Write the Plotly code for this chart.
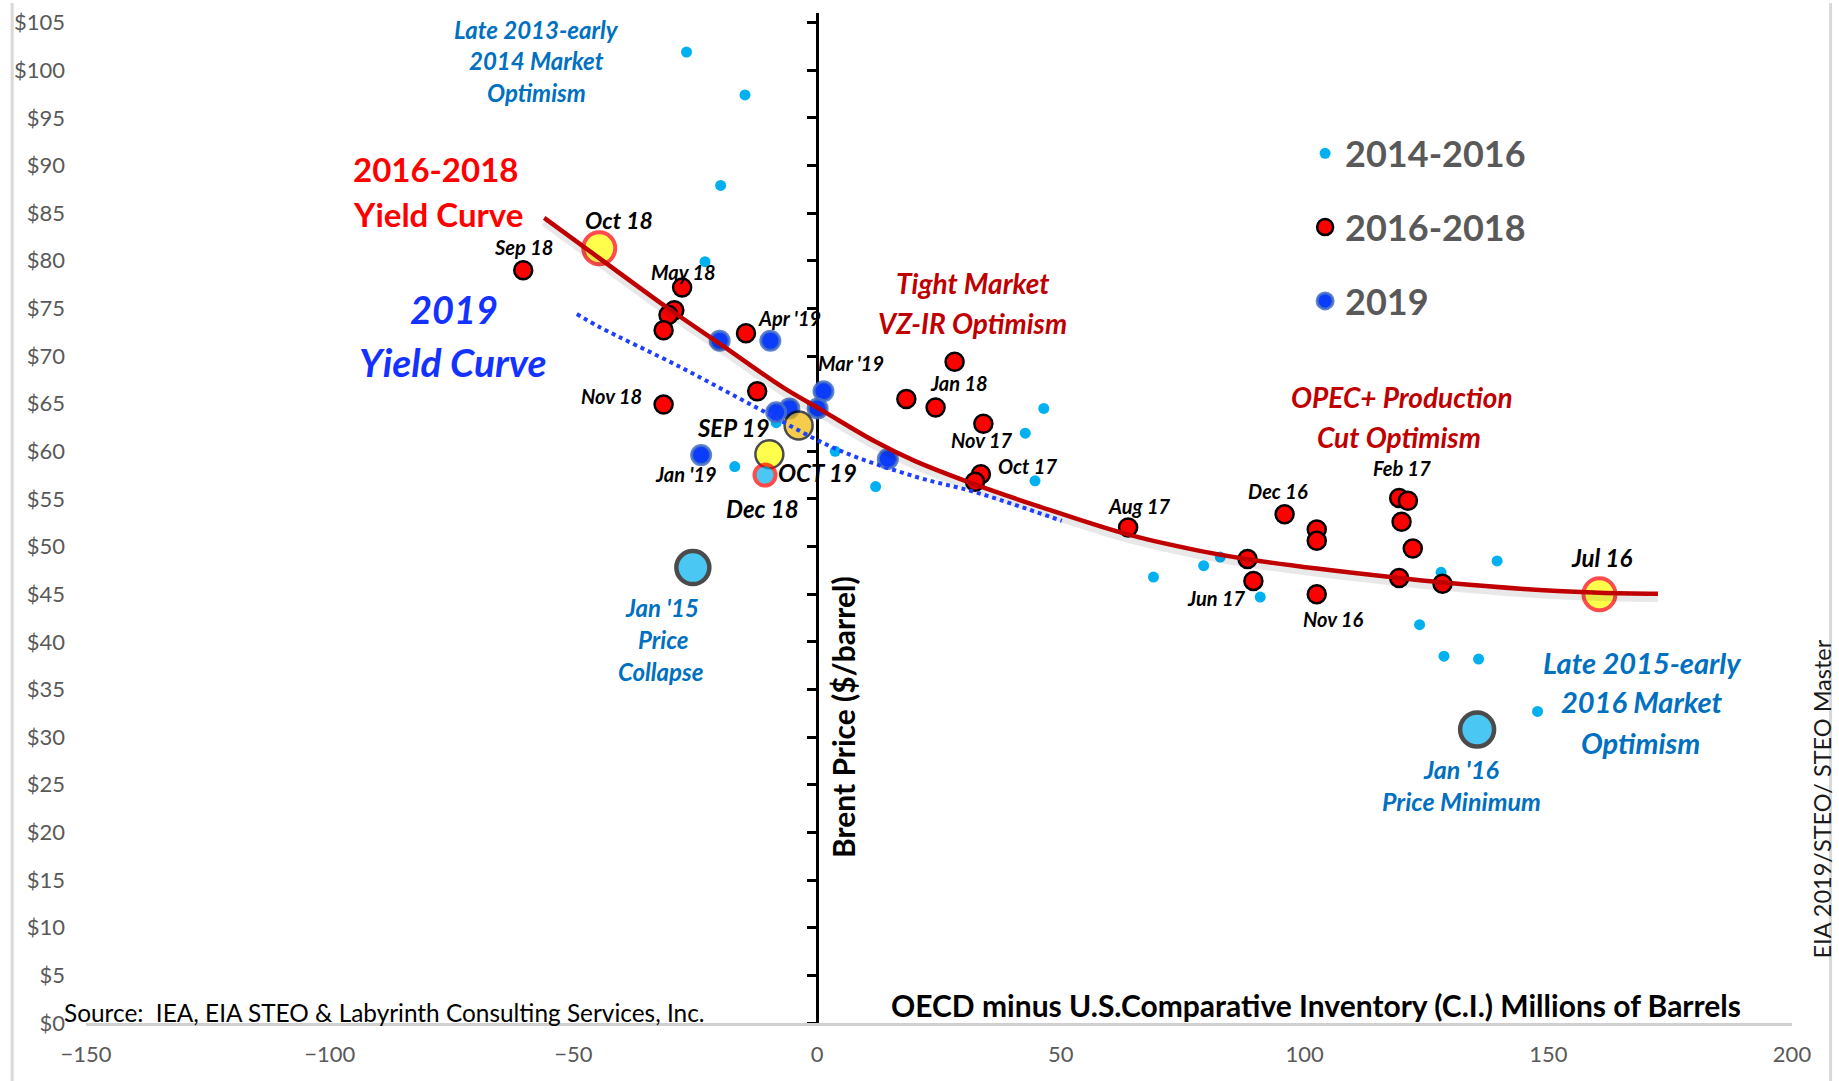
import plotly.graph_objects as go

# ---------------- data ----------------
# OECD minus U.S. comparative inventory (million bbl) vs Brent price ($/bbl)
ci_2014_2016 = [-26.8, -14.8, -19.8, -23.0, -8.4, -16.9, 3.7, 12.0, 46.5, 42.7, 44.7,
                69.0, 79.3, 82.7, 90.9, 128.0, 139.5, 123.6, 128.6, 135.7, 147.8]
brent_2014_2016 = [101.9, 97.4, 87.9, 79.9, 63.0, 58.4, 60.0, 56.3, 64.5, 61.9, 56.9,
                   46.8, 48.0, 48.9, 44.7, 47.3, 48.5, 41.8, 38.5, 38.2, 32.7]

ci_2016_2018 = [-60.3, -27.7, -29.3, -30.5, -31.5, -14.6, -12.3, -31.5, 28.2, 18.3, 24.3,
                34.1, 33.6, 32.4, 63.8, 95.9, 102.5, 102.5, 88.3, 89.5, 102.5,
                119.4, 121.2, 119.9, 122.2, 119.4, 128.3]
brent_2016_2018 = [79.0, 77.2, 74.8, 74.3, 72.7, 72.4, 66.3, 64.9, 69.4, 65.5, 64.6,
                   62.9, 57.6, 56.8, 52.0, 53.4, 51.8, 50.6, 48.7, 46.4, 45.0,
                   55.1, 54.8, 52.6, 49.8, 46.7, 46.1]

ci_2019 = [-20.0, -9.6, 1.3, 0.1, -5.7, -8.4, -23.8, 14.5]
brent_2019 = [71.6, 71.6, 66.3, 64.5, 64.5, 64.1, 59.6, 59.2]

# highlighted months
hl_label = ["Oct 18", "Jul 16", "SEP 19", "OCT 19", "Dec 18", "Jan '15", "Jan '16"]
hl_ci = [-44.7, 160.5, -3.8, -9.8, -10.7, -25.5, 135.4]
hl_brent = [81.3, 45.0, 62.7, 59.7, 57.5, 47.8, 30.8]

# yield curves (trend lines)
curve_2016_2018_ci = [-56.0, -44.5, -30.0, -20.0, -7.0, 1.0, 12.0, 20.0, 32.5, 45.0,
                      63.5, 78.0, 88.0, 102.5, 119.5, 128.0, 145.0, 160.5, 172.5]
curve_2016_2018_brent = [84.5, 80.2, 74.8, 71.3, 66.7, 64.3, 61.0, 59.0, 56.5, 54.3,
                         51.3, 49.6, 48.7, 47.7, 46.7, 46.25, 45.55, 45.15, 45.05]
curve_2019_ci = [-49.3, -44.5, -28.3, -12.1, 4.1, 20.4, 32.5, 50.2]
curve_2019_brent = [74.4, 73.0, 68.9, 64.5, 60.2, 57.3, 55.7, 52.7]

y_ticks = list(range(0, 106, 5))
y_tick_text = ["$" + str(v) for v in y_ticks]
x_ticks = [-150, -100, -50, 0, 50, 100, 150, 200]

# ---------------- styles ----------------
FONT = "Lato, 'Open Sans', sans-serif"
LIGHT_BLUE = "#00B0F0"
RED = "#FF0000"
BLUE = "#0A3CFA"
hl_fill = ["#FFFF00", "#FFFF00", "#F2B600", "#FFFF00", LIGHT_BLUE, LIGHT_BLUE, LIGHT_BLUE]
hl_line_color = [RED, RED, "#000000", "#000000", RED, "#000000", "#000000"]
hl_line_width = [4, 4, 2.5, 2.5, 4, 4.5, 4.5]
hl_size = [32, 32, 28, 28, 21, 33, 34]

fig = go.Figure()

fig.add_trace(go.Scatter(
    x=ci_2014_2016, y=brent_2014_2016, mode="markers", name="2014-2016",
    legendgroup="a",
    marker=dict(color=LIGHT_BLUE, size=11, line=dict(width=0))))
fig.add_trace(go.Scatter(
    x=ci_2016_2018, y=brent_2016_2018, mode="markers", name="2016-2018",
    legendgroup="b",
    marker=dict(color=RED, size=18, line=dict(color="#000000", width=2.5))))
fig.add_trace(go.Scatter(
    x=ci_2019, y=brent_2019, mode="markers", name="2019",
    legendgroup="c",
    marker=dict(color=BLUE, size=19, line=dict(color="rgba(70,112,196,0.85)", width=3))))
fig.add_trace(go.Scatter(
    x=hl_ci, y=hl_brent, mode="markers", showlegend=False, text=hl_label,
    marker=dict(color=hl_fill, size=hl_size,
                line=dict(color=hl_line_color, width=hl_line_width))))

# soft drop shadow of the 2016-2018 curve (same data on a slightly shifted hidden axis)
fig.add_trace(go.Scatter(
    x=curve_2016_2018_ci, y=curve_2016_2018_brent, mode="lines", showlegend=False,
    yaxis="y2", line=dict(color="rgba(0,0,0,0.09)", width=9, shape="spline")))
# trend curves drawn on an overlaying axis so they sit above the markers
fig.add_trace(go.Scatter(
    x=curve_2016_2018_ci, y=curve_2016_2018_brent, mode="lines", showlegend=False,
    yaxis="y3", line=dict(color="#C00000", width=4.5, shape="spline")))
fig.add_trace(go.Scatter(
    x=curve_2019_ci, y=curve_2019_brent, mode="lines", showlegend=False,
    yaxis="y3", line=dict(color="#1F3FFF", width=4, dash="dot", shape="spline")))

annotations = []


def lab(text, x, y, size, color, bold=True, italic=True, xanchor="center", **kw):
    annotations.append(dict(
        text=text, x=x, y=y, xref="x", yref="y", showarrow=False,
        xanchor=xanchor, yanchor="middle", yshift=4,
        font=dict(family=FONT, size=size, color=color,
                  weight="bold" if bold else "normal",
                  style="italic" if italic else "normal"), **kw))


DARK_BLUE = "#0070C0"
for t, x, y, s in [("Late 2013-early", -57.5, 103.9, 24), ("2014 Market", -57.6, 100.6, 24),
                   ("Optimism", -57.6, 97.2, 24),
                   ("Jan '15", -31.8, 43.2, 24), ("Price", -31.7, 39.8, 24),
                   ("Collapse", -32.1, 36.5, 24),
                   ("Late 2015-early", 169.2, 37.4, 29), ("2016 Market", 169.2, 33.3, 29),
                   ("Optimism", 169.0, 29.0, 29),
                   ("Jan '16", 132.1, 26.2, 25), ("Price Minimum", 132.1, 22.9, 25)]:
    lab(t, x, y, s, DARK_BLUE)

lab("2016-2018", -95.6, 89.2, 33, RED, italic=False, xanchor="left")
lab("Yield Curve", -95.6, 84.5, 33, RED, italic=False, xanchor="left")
lab("2019", -74.5, 74.5, 38, "#1432FF")
lab("Yield Curve", -74.7, 69.0, 39, "#1432FF")

for t, x, y in [("Tight Market", 32.0, 77.2), ("VZ-IR Optimism", 31.8, 73.0),
                ("OPEC+ Production", 119.9, 65.3), ("Cut Optimism", 119.4, 61.1)]:
    lab(t, x, y, 28, "#C00000")

for t, x, y, s in [("Oct 18", -40.7, 83.9, 23), ("Sep 18", -60.2, 81.0, 20),
                   ("May 18", -27.4, 78.4, 20), ("Apr '19", -5.7, 73.6, 20),
                   ("Nov 18", -42.1, 65.4, 20), ("Mar '19", 7.0, 68.8, 20),
                   ("Jan 18", 29.0, 66.7, 20), ("Nov 17", 33.9, 60.8, 20),
                   ("Oct 17", 43.1, 58.0, 20), ("Aug 17", 66.2, 53.8, 20),
                   ("SEP 19", -17.1, 62.1, 24), ("OCT 19", 0.1, 57.4, 24),
                   ("Dec 18", -11.3, 53.6, 24), ("Jan '19", -26.9, 57.2, 20),
                   ("Dec 16", 94.6, 55.4, 20), ("Feb 17", 120.0, 57.8, 20),
                   ("Jun 17", 82.0, 44.2, 20), ("Nov 16", 106.0, 42.0, 20),
                   ("Jul 16", 161.0, 48.4, 24)]:
    lab(t, x, y, s, "#000000")

lab("OECD minus U.S.Comparative Inventory (C.I.) Millions of Barrels", 102.3, 1.5, 30,
    "#000000", italic=False)
lab("Brent Price ($/barrel)", 5.3, 31.7, 30, "#000000", italic=False, textangle=-90)
annotations.append(dict(
    text="Source:  IEA, EIA STEO & Labyrinth Consulting Services, Inc.",
    x=-0.0142, y=0.0105, xref="paper", yref="paper", showarrow=False,
    xanchor="left", yanchor="middle",
    font=dict(family=FONT, size=24.4, color="#000000")))
annotations.append(dict(
    text="EIA 2019/STEO/ STEO Master", x=1.0174, y=0.222, xref="paper", yref="paper",
    showarrow=False, textangle=-90, xanchor="center", yanchor="middle",
    font=dict(family=FONT, size=23.5, color="#1A1A1A")))

fig.update_layout(
    width=1839, height=1081,
    margin=dict(l=86, r=47, t=8, b=58),
    paper_bgcolor="white", plot_bgcolor="white",
    font=dict(family=FONT),
    annotations=annotations,
    showlegend=True,
    legend=dict(x=0.7146, y=0.8907, xanchor="left", yanchor="top",
                bgcolor="rgba(0,0,0,0)", traceorder="grouped", tracegroupgap=24,
                font=dict(family=FONT, size=36, color="#595959", weight="bold")),
    xaxis=dict(range=[-150, 200], tickvals=x_ticks, showgrid=False, zeroline=False,
               showline=True, linecolor="#D0D0D0", linewidth=3, ticks="",
               tickfont=dict(family=FONT, size=22, color="#595959"),
               ticklabelstandoff=10),
    yaxis=dict(range=[0, 106], tickvals=y_ticks, ticktext=y_tick_text, showgrid=False,
               zeroline=False, showline=False, ticks="",
               tickfont=dict(family=FONT, size=22, color="#595959"),
               ticklabelstandoff=20),
    # hidden axis, range nudged so the shadow lands a few pixels below the curve
    yaxis2=dict(range=[0.4, 106.4], overlaying="y", visible=False),
    # black vertical axis crossing at x = 0
    yaxis3=dict(range=[0, 106], overlaying="y", anchor="free", position=150 / 350,
                side="left", tickvals=y_ticks, showticklabels=False, showgrid=False,
                zeroline=False, showline=True, linecolor="#000000", linewidth=3,
                ticks="outside", ticklen=9, tickwidth=2.5, tickcolor="#000000",
                layer="below traces"),
    shapes=[
        dict(type="line", xref="paper", yref="paper", x0=-0.0433, x1=-0.0433,
             y0=-0.06, y1=1.01, line=dict(color="#D9D9D9", width=3)),
        dict(type="line", xref="paper", yref="paper", x0=1.0226, x1=1.0226,
             y0=-0.06, y1=1.01, line=dict(color="#D9D9D9", width=3)),
    ],
)

fig.write_html("out.html", config={"displayModeBar": False},
               post_script="document.body.style.margin='0';document.body.style.overflow='hidden';")
